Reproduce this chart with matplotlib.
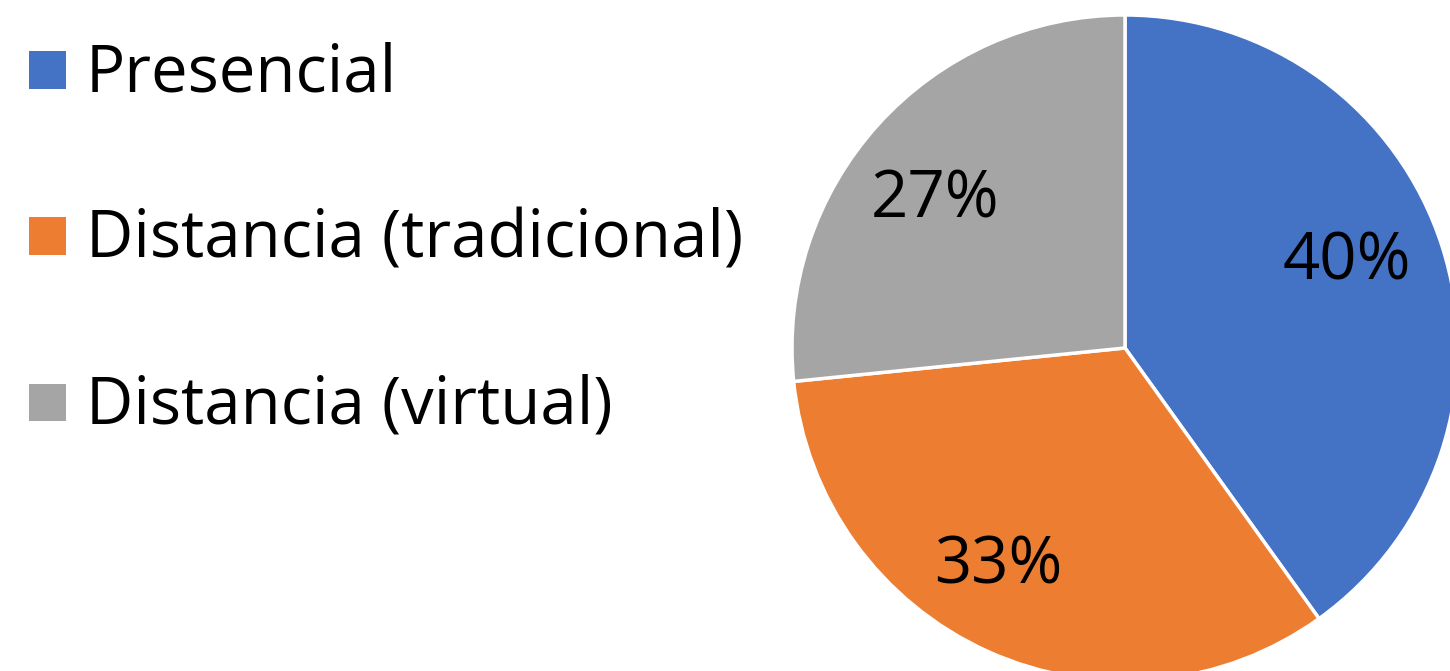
import matplotlib
matplotlib.use("Agg")
import matplotlib.pyplot as plt
from matplotlib.patches import Rectangle

categories = ["Presencial", "Distancia (tradicional)", "Distancia (virtual)"]
shares = [40.1, 33.3, 26.6]
colors = ["#4472C4", "#ED7D31", "#A5A5A5"]

plt.rcParams["font.family"] = ["Open Sans", "DejaVu Sans"]

W, H = 1450, 671
fig = plt.figure(figsize=(W / 100, H / 100), dpi=100)

# pie centre at (1125, 348) px, radius 333 px; it runs past the right and bottom edges
cx, cy, r = 1125, 348, 333
ax = fig.add_axes([(cx - r) / W, (H - cy - r) / H, 2 * r / W, 2 * r / H])
wedges, texts = ax.pie(shares, colors=colors, startangle=90, counterclock=False,
                       labels=[f"{round(v)}%" for v in shares], labeldistance=0.73,
                       wedgeprops=dict(edgecolor="white", linewidth=2.5),
                       textprops=dict(fontsize=47, color="black",
                                      ha="center", va="baseline"))
for w in wedges:
    w.set_clip_on(False)

# label placement as Excel put them (axes data units, baseline)
label_pos = [(0.667, 0.207), (-0.381, -0.706), (-0.571, 0.393)]
for t, p in zip(texts, label_pos):
    t.set_position(p)

ax.set_xlim(-1, 1)
ax.set_ylim(-1, 1)
ax.set_aspect("equal")
ax.axis("off")

# legend, drawn by hand to match the Office layout
for i, (cat, col) in enumerate(zip(categories, colors)):
    yc = 70 + 166 * i
    fig.add_artist(Rectangle((29 / W, 1 - (yc + 18.5) / H), 37 / W, 37 / H,
                             transform=fig.transFigure, facecolor=col,
                             edgecolor="none"))
    fig.text(86 / W, 1 - (92 + 166 * i) / H, cat, fontsize=47,
             ha="left", va="baseline")

fig.savefig("out.png", dpi=100)
